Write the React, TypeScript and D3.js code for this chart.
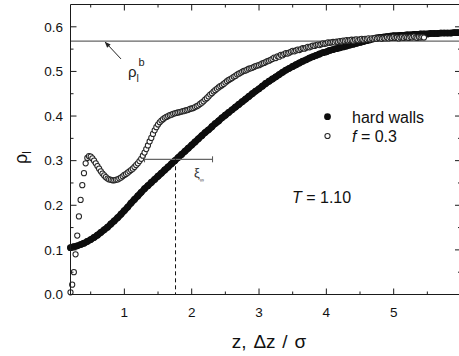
import React from 'react';
import * as d3 from 'd3';

// ---------- data ----------
const zStart = 0.2;
const hardStep = 0.05;
// hard walls, rho_l at z = 0.20, 0.25, ... 6.00
const hardWalls = [
  0.105, 0.107, 0.109, 0.112, 0.115, 0.119, 0.123, 0.128, 0.133, 0.139,
  0.145, 0.151, 0.158, 0.165, 0.172, 0.180, 0.188, 0.196, 0.205, 0.213,
  0.221, 0.229, 0.237, 0.244, 0.251, 0.258, 0.265, 0.272, 0.279, 0.286,
  0.293, 0.300, 0.307, 0.314, 0.321, 0.328, 0.335, 0.342, 0.349, 0.356,
  0.363, 0.369, 0.376, 0.383, 0.389, 0.396, 0.402, 0.408, 0.414, 0.420,
  0.426, 0.432, 0.438, 0.444, 0.450, 0.456, 0.461, 0.467, 0.473, 0.478,
  0.483, 0.488, 0.493, 0.498, 0.503, 0.507, 0.511, 0.515, 0.519, 0.523,
  0.526, 0.530, 0.533, 0.536, 0.539, 0.542, 0.544, 0.547, 0.549, 0.551,
  0.553, 0.555, 0.557, 0.559, 0.561, 0.563, 0.565, 0.567, 0.569, 0.571,
  0.573, 0.575, 0.576, 0.577, 0.578, 0.579, 0.580, 0.580, 0.581, 0.581,
  0.582, 0.582, 0.583, 0.583, 0.584, 0.584, 0.584, 0.585, 0.585, 0.585,
  0.586, 0.586, 0.586, 0.586, 0.587, 0.587, 0.587,
];

const softStep = 0.025;
// f = 0.3, rho_l at z = 0.200, 0.225, ... 5.450
const softWalls = [
  0.005, 0.022, 0.050, 0.090, 0.132, 0.175, 0.212, 0.245, 0.272, 0.294,
  0.306, 0.310, 0.309, 0.305, 0.300, 0.294, 0.288, 0.282, 0.276, 0.271,
  0.267, 0.263, 0.260, 0.258, 0.257, 0.256, 0.256, 0.257, 0.258, 0.260,
  0.262, 0.265, 0.268, 0.270, 0.273, 0.276, 0.279, 0.282, 0.286, 0.290,
  0.294, 0.299, 0.304, 0.311, 0.318, 0.326, 0.334, 0.343, 0.351, 0.360,
  0.368, 0.375, 0.381, 0.386, 0.390, 0.393, 0.396, 0.398, 0.400, 0.402,
  0.403, 0.405, 0.406, 0.407, 0.408, 0.409, 0.410, 0.411, 0.412, 0.413,
  0.414, 0.416, 0.417, 0.418, 0.420, 0.422, 0.424, 0.427, 0.430, 0.433,
  0.437, 0.440, 0.444, 0.448, 0.451, 0.455, 0.458, 0.461, 0.464, 0.467,
  0.469, 0.472, 0.475, 0.478, 0.481, 0.483, 0.485, 0.488, 0.490, 0.493,
  0.495, 0.497, 0.499, 0.501, 0.502, 0.504, 0.506, 0.507, 0.508, 0.510,
  0.512, 0.513, 0.514, 0.516, 0.518, 0.519, 0.521, 0.523, 0.524, 0.526,
  0.528, 0.531, 0.530, 0.534, 0.533, 0.537, 0.536, 0.539, 0.541, 0.540,
  0.542, 0.544, 0.546, 0.545, 0.547, 0.549, 0.548, 0.550, 0.552, 0.551,
  0.553, 0.555, 0.554, 0.556, 0.558, 0.557, 0.559, 0.560, 0.559, 0.561,
  0.563, 0.562, 0.563, 0.565, 0.564, 0.565, 0.566, 0.565, 0.567, 0.566,
  0.568, 0.567, 0.569, 0.568, 0.570, 0.569, 0.570, 0.571, 0.569, 0.571,
  0.572, 0.570, 0.572, 0.573, 0.571, 0.573, 0.572, 0.574, 0.572, 0.574,
  0.573, 0.575, 0.573, 0.575, 0.574, 0.573, 0.575, 0.574, 0.576, 0.574,
  0.576, 0.575, 0.577, 0.575, 0.576, 0.574, 0.576, 0.577, 0.575, 0.577,
  0.576, 0.575, 0.577, 0.576, 0.578, 0.576, 0.575, 0.577, 0.576, 0.577,
  0.576,
];

const bulkDensity = 0.568;
const xiLevel = 0.303;
const xiFrom = 1.3;
const xiTo = 2.31;
const xiZ = 1.76;

const xMajor = [1, 2, 3, 4, 5, 6];
const xMinor = [0.5, 1.5, 2.5, 3.5, 4.5, 5.5];
const xLabels = ['1', '2', '3', '4', '5'];
const yMajor = [0, 0.1, 0.2, 0.3, 0.4, 0.5, 0.6];
const yMinor = [0.05, 0.15, 0.25, 0.35, 0.45, 0.55];
const yLabels = ['0.0', '0.1', '0.2', '0.3', '0.4', '0.5', '0.6'];

// ---------- chart ----------
const W = 459;
const H = 356;
const FONT = "'Liberation Sans', Arial, Helvetica, sans-serif";
const AX = '#1a1a1a';

export default function App() {
  const x = d3.scaleLinear().domain([0.2, 6.0]).range([70.5, 461]);
  const y = d3.scaleLinear().domain([0, 0.65]).range([294.5, 4.5]);
  const [x0, x1] = x.range();
  const [y0, y1] = y.range();

  const hardPts: [number, number][] = hardWalls.map((v, i) => [zStart + i * hardStep, v]);
  const softPts: [number, number][] = softWalls.map((v, i) => [zStart + i * softStep, v]);

  const band = d3
    .line<[number, number]>()
    .x((d) => x(d[0]))
    .y((d) => y(d[1]))
    .curve(d3.curveMonotoneX)(hardPts) || '';

  const MAJ = 6;
  const MIN = 3;

  return (
    <svg
      width={W}
      height={H}
      viewBox={`0 0 ${W} ${H}`}
      style={{ position: 'absolute', left: 0, top: 0, background: '#fff' }}
      fontFamily={FONT}
    >
      <defs>
        <marker id="arr" viewBox="0 0 10 10" refX="9" refY="5" markerWidth="7" markerHeight="6" orient="auto">
          <path d="M0,1 L10,5 L0,9 z" fill="#222" />
        </marker>
      </defs>
      <rect x={0} y={0} width={W} height={H} fill="#fff" />

      {/* bulk density line */}
      <line x1={x0} x2={x1} y1={y(bulkDensity)} y2={y(bulkDensity)} stroke="#666" strokeWidth={1.4} />

      {/* hard walls (dense filled symbols) */}
      <path d={band} fill="none" stroke="#0d0d0d" strokeWidth={6.6} strokeLinecap="round" strokeLinejoin="round" />
      <g>
        {hardPts.map(([z, v], i) => (
          <circle key={i} cx={x(z)} cy={y(v)} r={3.4} fill="#0d0d0d" />
        ))}
      </g>
      {/* f = 0.3 */}
      <g>
        {softPts.map(([z, v], i) => (
          <circle key={i} cx={x(z)} cy={y(v)} r={2.6} fill="#fff" stroke="#262626" strokeWidth={1.05} />
        ))}
      </g>

      {/* xi annotation */}
      <line x1={x(xiFrom)} x2={x(xiTo)} y1={y(xiLevel)} y2={y(xiLevel)} stroke="#666" strokeWidth={1.3} />
      <line x1={x(xiFrom)} x2={x(xiFrom)} y1={y(xiLevel) - 3} y2={y(xiLevel) + 3} stroke="#555" strokeWidth={1} />
      <line x1={x(xiTo)} x2={x(xiTo)} y1={y(xiLevel) - 3} y2={y(xiLevel) + 3} stroke="#555" strokeWidth={1} />
      <line x1={x(xiZ)} x2={x(xiZ)} y1={y(xiLevel)} y2={y0} stroke="#111" strokeWidth={1} strokeDasharray="4,3" />
      <text x={194} y={177} fontSize={13} fill="#333">
        ξ<tspan fontSize={6} dy={5}>∞</tspan>
      </text>

      {/* rho_l^b arrow + label */}
      <line x1={x(0.95)} y1={y(0.528)} x2={x(0.715)} y2={y(bulkDensity) + 1} stroke="#222" strokeWidth={1} markerEnd="url(#arr)" />
      <text x={128} y={77} fontSize={15} fill="#222">ρ</text>
      <text x={136.5} y={82} fontSize={10.5} fill="#222">l</text>
      <text x={138.5} y={65.5} fontSize={11} fill="#222">b</text>

      {/* legend */}
      <circle cx={327.5} cy={116.7} r={3.4} fill="#0d0d0d" />
      <text x={352} y={122.5} fontSize={16} fill="#111">hard walls</text>
      <circle cx={327.5} cy={136} r={2.6} fill="#fff" stroke="#262626" strokeWidth={1.05} />
      <text x={352} y={142} fontSize={16} fill="#111">
        <tspan fontStyle="italic">f</tspan> = 0.3
      </text>

      <text x={292} y={203} fontSize={16} fill="#111">
        <tspan fontStyle="italic">T</tspan> = 1.10
      </text>

      {/* frame */}
      <line x1={x0} x2={x1} y1={y0} y2={y0} stroke={AX} strokeWidth={1} />
      <line x1={x0} x2={x1} y1={y1} y2={y1} stroke={AX} strokeWidth={1} />
      <line x1={x0} x2={x0} y1={y0} y2={y1} stroke={AX} strokeWidth={1} />
      <line x1={x1} x2={x1} y1={y0} y2={y1} stroke={AX} strokeWidth={1} />

      {/* x ticks */}
      {xMajor.map((t) => (
        <g key={'xm' + t}>
          <line x1={x(t)} x2={x(t)} y1={y0} y2={y0 - MAJ} stroke={AX} />
          <line x1={x(t)} x2={x(t)} y1={y1} y2={y1 + MAJ} stroke={AX} />
        </g>
      ))}
      {xMinor.map((t) => (
        <g key={'xn' + t}>
          <line x1={x(t)} x2={x(t)} y1={y0} y2={y0 - MIN} stroke={AX} />
          <line x1={x(t)} x2={x(t)} y1={y1} y2={y1 + MIN} stroke={AX} />
        </g>
      ))}
      {xLabels.map((l, i) => (
        <text key={'xl' + l} x={x(xMajor[i])} y={316.5} fontSize={13.5} textAnchor="middle" fill="#111">
          {l}
        </text>
      ))}

      {/* y ticks */}
      {yMajor.map((t) => (
        <g key={'ym' + t}>
          <line x1={x0} x2={x0 + MAJ} y1={y(t)} y2={y(t)} stroke={AX} />
          <line x1={x1} x2={x1 - MAJ} y1={y(t)} y2={y(t)} stroke={AX} />
        </g>
      ))}
      {yMinor.map((t) => (
        <g key={'yn' + t}>
          <line x1={x0} x2={x0 + MIN} y1={y(t)} y2={y(t)} stroke={AX} />
          <line x1={x1} x2={x1 - MIN} y1={y(t)} y2={y(t)} stroke={AX} />
        </g>
      ))}
      {yLabels.map((l, i) => (
        <text key={'yl' + l} x={63} y={y(yMajor[i]) + 4.8} fontSize={13.5} textAnchor="end" fill="#111">
          {l}
        </text>
      ))}

      {/* axis titles */}
      <text x={269} y={348} fontSize={19} textAnchor="middle" fill="#111" wordSpacing={1.5}>
        z, Δz / σ
      </text>
      <text transform="translate(27,164) rotate(-90)" fontSize={18} fill="#111">
        ρ<tspan fontSize={12} dy={4}>l</tspan>
      </text>
    </svg>
  );
}
